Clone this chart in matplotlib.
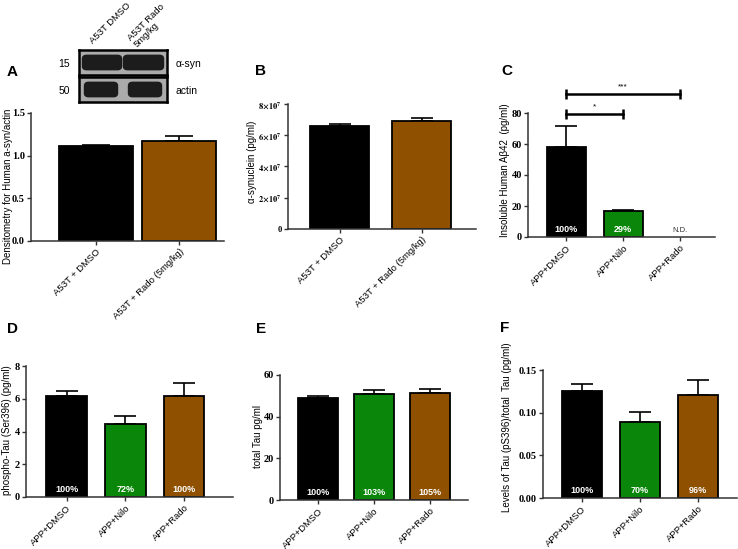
import matplotlib
matplotlib.use("Agg")
import matplotlib.pyplot as plt
from matplotlib.patches import FancyBboxPatch
import numpy as np

plt.rcParams['font.family'] = ['Liberation Sans', 'DejaVu Sans']
plt.rcParams['mathtext.fontset'] = 'stix'

W, H = 738, 549

BLACK = '#000000'
GREEN = '#0a870a'
BROWN = '#8f5000'

# panel A / B data
ab_labels = ['A53T + DMSO', 'A53T + Rado (5mg/kg)']
a_vals = [1.11, 1.17]
a_err = [0.02, 0.065]
b_vals = [6.59e7, 6.91e7]
b_err = [0.13e7, 0.19e7]

# panels C-F data
app_labels = ['APP+DMSO', 'APP+Nilo', 'APP+Rado']
c_vals = [57.9, 17.0, np.nan]
c_err = [13.7, 0.7, 0]
c_pct = ['100%', '29%', None]
d_vals = [6.14, 4.47, 6.18]
d_err = [0.33, 0.49, 0.78]
d_pct = ['100%', '72%', '100%']
e_vals = [49.1, 50.9, 51.5]
e_err = [0.7, 1.7, 1.9]
e_pct = ['100%', '103%', '105%']
f_vals = [0.1258, 0.0892, 0.1204]
f_err = [0.0078, 0.0117, 0.0183]
f_pct = ['100%', '70%', '96%']


def px_axes(fig, x0, x1, ytop, ybot):
    return fig.add_axes([x0 / W, 1 - ybot / H, (x1 - x0) / W, (ybot - ytop) / H])


def style(ax, ticks, ticklabels, xlim, labels, ylim, tsize=7.5):
    ax.set_ylim(*ylim)
    ax.set_xlim(*xlim)
    for s in ['top', 'right']:
        ax.spines[s].set_visible(False)
    for s in ['left', 'bottom']:
        ax.spines[s].set_linewidth(1.1)
        ax.spines[s].set_color('#333333')
    ax.set_yticks(ticks)
    ax.set_yticklabels(ticklabels, fontfamily='Liberation Serif', fontweight='bold', fontsize=tsize)
    ax.set_xticks(range(len(labels)))
    ax.set_xticklabels(labels, rotation=45, ha='right', rotation_mode='anchor', fontsize=6.8)
    ax.tick_params(axis='both', direction='out', length=3, width=1.0, color='#333333', pad=1.5)
    ax.set_facecolor('none')


def bars(ax, vals, err, colors, width, capsize=8):
    x = np.arange(len(vals))
    ax.bar(x, vals, width=width, color=colors, edgecolor='black', linewidth=1.3, zorder=2)
    ok = [i for i in range(len(vals)) if not np.isnan(vals[i])]
    ax.errorbar(x[ok], np.array(vals)[ok], yerr=[np.zeros(len(ok)), np.array(err)[ok]],
                fmt='none', ecolor='black', elinewidth=1.2, capsize=capsize, capthick=1.2, zorder=1)


def pct(ax, labels):
    for i, t in enumerate(labels):
        if t:
            ax.annotate(t, xy=(i, 0), xytext=(0, 2), textcoords='offset points', ha='center',
                        va='bottom', color='white', fontweight='bold', fontsize=6.5, zorder=3)


def ylab(fig, x, y, t):
    fig.text(x / W, 1 - y / H, t, rotation=90, ha='center', va='center', fontsize=7)


def letter(fig, x, y, t):
    fig.text(x / W, 1 - y / H, t, ha='center', va='center', fontsize=11, fontweight='bold')


fig = plt.figure(figsize=(W / 100, H / 100), dpi=100)

# A
ax = px_axes(fig, 31, 224, 113, 241)
bars(ax, a_vals, a_err, [BLACK, BROWN], 0.89, capsize=10)
style(ax, [0, 0.5, 1.0, 1.5], ['0.0', '0.5', '1.0', '1.5'], (-0.78, 1.54), ab_labels, (0, 1.5))
ylab(fig, 8, 186, 'Densitometry for Human a-syn/actin')
letter(fig, 12, 72, 'A')

# western blot inset
for (ytop, ybot, name, mw, bands) in [(50, 75, 'α-syn', '15', [(82, 122), (123, 164)]),
                                       (77, 102, 'actin', '50', [(84, 118), (128, 162)])]:
    bx = px_axes(fig, 79, 167, ytop, ybot)
    bx.set_xlim(79, 167)
    bx.set_ylim(0, 1)
    bx.set_facecolor('#ababab')
    bx.set_xticks([])
    bx.set_yticks([])
    for s in bx.spines.values():
        s.set_linewidth(1.8)
    for (l, r) in bands:
        bx.add_patch(FancyBboxPatch((l + 3, 0.3), r - l - 6, 0.4,
                                    boxstyle='round,pad=2.5,rounding_size=4',
                                    mutation_aspect=0.035, color='#1c1c1c'))
    fig.text(64 / W, 1 - (ytop + 14) / H, mw, ha='center', va='center', fontsize=7.5)
    fig.text(176 / W, 1 - (ytop + 14) / H, name, ha='left', va='center', fontsize=7.5)
fig.text(94 / W, 1 - 45 / H, 'A53T DMSO', rotation=45, ha='left', va='bottom',
         rotation_mode='anchor', fontsize=6.8)
fig.text(139 / W, 1 - 49 / H, 'A53T Rado\n5mg/kg', rotation=45, ha='left', va='bottom',
         rotation_mode='anchor', fontsize=6.8, multialignment='left', linespacing=1.0)

# B
ax = px_axes(fig, 288, 476, 104, 229)
bars(ax, b_vals, b_err, [BLACK, BROWN], 0.72)
style(ax, [0, 2e7, 4e7, 6e7, 8e7],
      ['0'] + [r'$\mathbf{%d{\times}10^{7}}$' % v for v in (2, 4, 6, 8)],
      (-0.63, 1.66), ab_labels, (0, 8e7), tsize=6)
ylab(fig, 252, 162, 'α-synuclein (pg/ml)')
letter(fig, 261, 71, 'B')

# C
ax = px_axes(fig, 528, 715, 113, 237)
bars(ax, c_vals, c_err, [BLACK, GREEN, BROWN], 0.68)
style(ax, [0, 20, 40, 60, 80], ['0', '20', '40', '60', '80'], (-0.67, 2.61), app_labels, (0, 80))
pct(ax, c_pct)
ax.annotate('N.D.', xy=(2, 0), xytext=(0, 2), textcoords='offset points', ha='center',
            va='bottom', fontsize=5.5, color='#333333')
for (x0, x1, y, star) in [(0, 2, 92.3, '***'), (0, 1, 79.4, '*')]:
    ax.plot([x0, x1], [y, y], color='black', lw=1.8, clip_on=False)
    ax.plot([x0, x1], [y, y], ls='none', marker='|', ms=7, mew=1.8, color='black', clip_on=False)
    ax.text((x0 + x1) / 2, y + 2.5, star, ha='center', va='bottom', fontsize=6)
ylab(fig, 505, 170, 'Insoluble Human Aβ42  (pg/ml)')
letter(fig, 507, 71, 'C')

# D
ax = px_axes(fig, 26, 233, 366, 497)
bars(ax, d_vals, d_err, [BLACK, GREEN, BROWN], 0.69)
style(ax, [0, 2, 4, 6, 8], ['0', '2', '4', '6', '8'], (-0.69, 2.83), app_labels, (0, 8))
pct(ax, d_pct)
ylab(fig, 7, 430, 'phospho-Tau (Ser396) (pg/ml)')
letter(fig, 12, 329, 'D')

# E
ax = px_axes(fig, 280, 468, 375, 500)
bars(ax, e_vals, e_err, [BLACK, GREEN, BROWN], 0.7)
style(ax, [0, 20, 40, 60], ['0', '20', '40', '60'], (-0.68, 2.68), app_labels, (0, 60))
pct(ax, e_pct)
ylab(fig, 258, 437, 'total Tau pg/ml')
letter(fig, 261, 329, 'E')

# F
ax = px_axes(fig, 543, 737, 370, 498)
bars(ax, f_vals, f_err, [BLACK, GREEN, BROWN], 0.68)
style(ax, [0, 0.05, 0.10, 0.15], ['0.00', '0.05', '0.10', '0.15'], (-0.67, 2.67), app_labels, (0, 0.15))
pct(ax, f_pct)
ylab(fig, 507, 427, 'Levels of Tau (pS396)/total  Tau (pg/ml)')
letter(fig, 505, 328, 'F')

fig.savefig('out.png', dpi=100)
